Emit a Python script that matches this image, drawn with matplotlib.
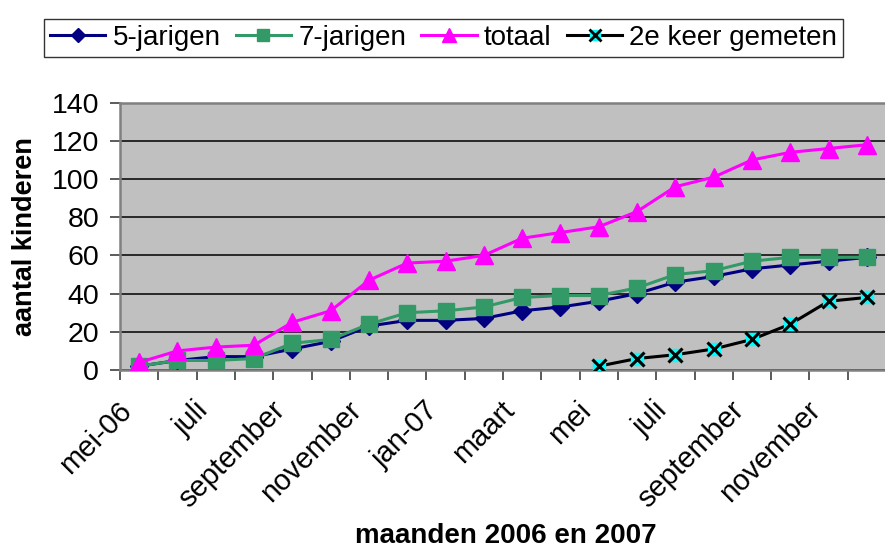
import numpy as np
import matplotlib
matplotlib.use("Agg")
import matplotlib.pyplot as plt
from matplotlib.lines import Line2D
from matplotlib.legend_handler import HandlerTuple
import matplotlib.transforms as mtransforms

plt.rcParams['font.family'] = ['Liberation Sans', 'DejaVu Sans']

months = ['mei-06', 'juni', 'juli', 'augustus', 'september', 'oktober', 'november',
          'december', 'jan-07', 'februari', 'maart', 'april', 'mei', 'juni', 'juli',
          'augustus', 'september', 'oktober', 'november', 'december']
tick_labels = ['mei-06', '', 'juli', '', 'september', '', 'november', '', 'jan-07', '',
               'maart', '', 'mei', '', 'juli', '', 'september', '', 'november', '']

vijf = [2, 5, 7, 7, 11, 15, 23, 26, 26, 27, 31, 33, 36, 40, 46, 49, 53, 55, 57, 59]
zeven = [2, 5, 5, 6, 14, 16, 24, 30, 31, 33, 38, 39, 39, 43, 50, 52, 57, 59, 59, 59]
totaal = [4, 10, 12, 13, 25, 31, 47, 56, 57, 60, 69, 72, 75, 83, 96, 101, 110, 114, 116, 118]
tweede = [np.nan] * 12 + [2, 6, 8, 11, 16, 24, 36, 38]

W, H = 885, 550
fig = plt.figure(figsize=(W / 100, H / 100), dpi=100)
ax = fig.add_axes([120 / W, (H - 370) / H, 766 / W, (370 - 102.7) / H])
ax.set_facecolor('#C0C0C0')

x = np.arange(len(months))
lw = 2.2
ax.plot(x, vijf, color='#000080', lw=lw, marker='D', ms=9, mfc='#000080', mec='#000080', zorder=3)
ax.plot(x, zeven, color='#339966', lw=lw, marker='s', ms=11.5, mfc='#339966', mec='#339966', zorder=4)
ax.plot(x, totaal, color='#FF00FF', lw=lw, marker='^', ms=13, mfc='#FF00FF', mec='#FF00FF', zorder=5)
ax.plot(x, tweede, color='black', lw=lw, marker='s', ms=9, mfc='#00FFFF', mec='#00FFFF', zorder=6)
ax.plot(x, tweede, color='none', lw=0, marker='x', ms=10.5, mec='black', mew=2.2, zorder=7)

ax.set_xlim(-0.5, len(months) - 0.5)
ax.set_ylim(0, 140)
ax.set_yticks(np.arange(0, 141, 20))
ax.yaxis.grid(True, color='black', lw=1.1)
ax.set_axisbelow(True)

ax.set_xticks(x)
ax.set_xticklabels(tick_labels, rotation=45, ha='right', va='center',
                   rotation_mode='anchor', fontsize=21)
ax.set_xticks(np.arange(-0.5, len(months), 1.0), minor=True)
ax.tick_params(axis='x', which='major', length=0, pad=0)
ax.tick_params(axis='x', which='minor', length=7, width=1.2, color='#404040', direction='out')
off = mtransforms.ScaledTranslation(-12 / 100, -36 / 100, fig.dpi_scale_trans)
for lab in ax.get_xticklabels():
    lab.set_transform(lab.get_transform() + off)

ax.tick_params(axis='y', length=7, width=1.2, color='#404040', direction='out',
               labelsize=20.5, pad=8)

for s in ['left', 'bottom', 'top']:
    ax.spines[s].set_color('#808080')
    ax.spines[s].set_linewidth(1.8)
ax.spines['right'].set_visible(False)

fig.text(25 / W, 1 - 237 / H, 'aantal kinderen', rotation=90, ha='center', va='center',
         fontsize=19.5, fontweight='bold')
fig.text(506 / W, 1 - 536 / H, 'maanden 2006 en 2007', ha='center', va='center',
         fontsize=20, fontweight='bold')

h1 = Line2D([], [], color='#000080', lw=lw, marker='D', ms=7, mfc='#000080', mec='#000080')
h2 = Line2D([], [], color='#339966', lw=lw, marker='s', ms=9, mfc='#339966', mec='#339966')
h3 = Line2D([], [], color='#FF00FF', lw=lw, marker='^', ms=10, mfc='#FF00FF', mec='#FF00FF')
h4a = Line2D([], [], color='black', lw=lw, marker='s', ms=7, mfc='#00FFFF', mec='#00FFFF')
h4b = Line2D([], [], color='none', lw=0, marker='x', ms=8, mec='black', mew=2.0)
leg = fig.legend([h1, h2, h3, (h4a, h4b)],
                 ['5-jarigen', '7-jarigen', 'totaal', '2e keer gemeten'],
                 handler_map={tuple: HandlerTuple(ndivide=1, pad=0)},
                 ncol=4, loc='center', bbox_to_anchor=(443.5 / W, 1 - 38 / H),
                 fontsize=20, frameon=True, fancybox=False, edgecolor='black',
                 handlelength=2.0, handletextpad=0.25, columnspacing=0.55,
                 borderpad=0.2, borderaxespad=0)
leg.get_frame().set_linewidth(1.0)

fig.savefig('out.png', dpi=100)
